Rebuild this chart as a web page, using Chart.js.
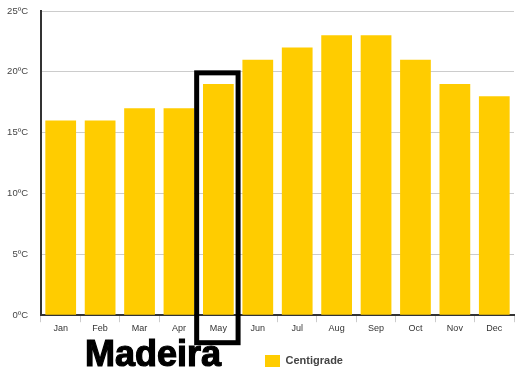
<!DOCTYPE html>
<html>
<head>
<meta charset="utf-8">
<script src="https://cdn.jsdelivr.net/npm/chart.js@4/dist/chart.umd.min.js"></script>
<style>
  body { margin: 0; background: #fff; }
  #wrap { width: 524px; height: 374px; position: relative; }
</style>
</head>
<body>
<div id="wrap"><canvas id="chart"></canvas></div>
<script>
const months = ['Jan', 'Feb', 'Mar', 'Apr', 'May', 'Jun', 'Jul', 'Aug', 'Sep', 'Oct', 'Nov', 'Dec'];
const temps = [16, 16, 17, 17, 19, 21, 22, 23, 23, 21, 19, 18];
const highlightIndex = 4;
const placeName = 'Madeira';

// box around the highlighted month + the big place name
const highlightPlugin = {
    id: 'highlight',
    afterDraw(chart) {
        const ctx = chart.ctx;
        const x = chart.scales.x;
        const y = chart.scales.y;
        const half = (x.getPixelForValue(1) - x.getPixelForValue(0)) / 2;
        const cx = x.getPixelForValue(highlightIndex);
        const top = y.getPixelForValue(20) + 1;
        const bottom = chart.chartArea.bottom + 27.5;
        ctx.save();
        ctx.strokeStyle = '#000';
        ctx.lineWidth = 5;
        ctx.strokeRect(cx - half - 2, top, half * 2 + 2, bottom - top);

        ctx.fillStyle = '#000';
        ctx.strokeStyle = '#000';
        ctx.lineWidth = 1.2;
        ctx.font = 'bold 36px "Liberation Sans", Arial, sans-serif';
        ctx.textBaseline = 'alphabetic';
        ctx.fillText(placeName, 85, 366);
        ctx.strokeText(placeName, 85, 366);
        ctx.restore();
    }
};

// push legend to the right of the title
const legendShift = {
    id: 'legendShift',
    afterLayout(chart) {
        chart.legend.left += 46;
        chart.legend.right += 46;
        chart.legend.top += 6;
        chart.legend.bottom += 6;
    }
};

const data = {
    labels: months,
    datasets: [
        {
            label: 'Centigrade',
            data: temps,
            backgroundColor: '#FFCC00',
            borderWidth: 0,
            categoryPercentage: 1,
            barPercentage: 0.78,
        }
    ]
};

const options = {
    responsive: true,
    maintainAspectRatio: false,
    animation: false,
    layout: { padding: { top: 0, right: 10, left: 2, bottom: 3 } },
    plugins: {
        legend: {
            position: 'bottom',
            labels: {
                boxWidth: 15,
                boxHeight: 12,
                color: '#444',
                font: { family: '"Liberation Sans", Arial, sans-serif', size: 11, weight: 'bold' },
                padding: 14,
            }
        },
        tooltip: { enabled: false }
    },
    scales: {
        x: {
            grid: {
                offset: true,
                drawOnChartArea: false,
                drawTicks: true,
                tickLength: 7,
                color: '#ccc',
            },
            border: { color: '#333', width: 2 },
            ticks: {
                color: '#333',
                padding: 1,
                font: { family: '"Liberation Sans", Arial, sans-serif', size: 9 },
            }
        },
        y: {
            min: 0,
            max: 25,
            afterFit(scale) {
                scale.width = 39;
                scale.paddingTop = 11;
            },
            ticks: {
                stepSize: 5,
                color: '#444',
                padding: 13,
                font: { family: '"Liberation Sans", Arial, sans-serif', size: 9.5 },
                callback: v => v + 'ºC',
            },
            grid: { color: '#ccc', drawTicks: false },
            border: { color: '#333', width: 2 },
        }
    }
};

new Chart(document.getElementById('chart'), {
    type: 'bar',
    data: data,
    options: options,
    plugins: [highlightPlugin, legendShift]
});
</script>
</body>
</html>
